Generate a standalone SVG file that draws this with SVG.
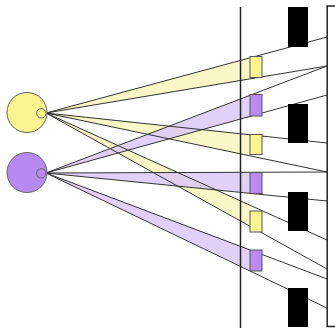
<svg xmlns="http://www.w3.org/2000/svg" width="335" height="328" viewBox="0 0 335 328">
  <style>
    .ray { stroke: #333; stroke-width: 1; fill: none; }
    .beam-y { fill: #f8f5b8; fill-opacity: 0.8; stroke: none; }
    .beam-p { fill: #d9c6f7; fill-opacity: 0.8; stroke: none; }
    .src-y { fill: #faf68f; stroke: #666; stroke-width: 1; }
    .src-p { fill: #b68af0; stroke: #666; stroke-width: 1; }
    .ap-y { fill: #f9f68f; stroke: #555; stroke-width: 1; }
    .ap-p { fill: #b88cf2; stroke: #555; stroke-width: 1; }
    .block { fill: #000; }
    .plane { stroke: #222; stroke-width: 1.5; fill: none; }
  </style>

  <!-- light cones from each source to the apertures -->
  <g id="connectors">
    <polygon class="beam-y" points="46,113 251,57.8 251,78.9"/>
    <polygon class="beam-y" points="46,113 251,134.8 251,155.8"/>
    <polygon class="beam-y" points="46,113 251,205.2 251,226.3"/>
    <polygon class="beam-p" points="46,173 251,95.3 251,116.4"/>
    <polygon class="beam-p" points="46,173 251,172.3 251,193.3"/>
    <polygon class="beam-p" points="46,173 251,250 251,271"/>

    <!-- ray edges running on to the screen -->
    <line class="ray" x1="46" y1="113" x2="327" y2="37"/>
    <line class="ray" x1="46" y1="113" x2="327" y2="66"/>
    <line class="ray" x1="46" y1="113" x2="327" y2="143"/>
    <line class="ray" x1="46" y1="113" x2="327" y2="172"/>
    <line class="ray" x1="46" y1="113" x2="327" y2="240"/>
    <line class="ray" x1="46" y1="113" x2="327" y2="269"/>
    <line class="ray" x1="46" y1="173" x2="327" y2="66"/>
    <line class="ray" x1="46" y1="173" x2="327" y2="95"/>
    <line class="ray" x1="46" y1="173" x2="327" y2="172"/>
    <line class="ray" x1="46" y1="173" x2="327" y2="201"/>
    <line class="ray" x1="46" y1="173" x2="327" y2="279"/>
    <line class="ray" x1="46" y1="173" x2="327" y2="308"/>
  </g>

  <!-- aperture plane -->
  <g id="plane">
    <line class="plane" x1="240.5" y1="7" x2="240.5" y2="328"/>
  </g>

  <!-- sources -->
  <g id="source-yellow">
    <circle class="src-y" cx="27" cy="112.5" r="20"/>
    <circle class="src-y" cx="41.3" cy="113.3" r="4.7"/>
  </g>
  <g id="source-purple">
    <circle class="src-p" cx="27" cy="172.5" r="20"/>
    <circle class="src-p" cx="41.3" cy="173.3" r="4.7"/>
  </g>

  <!-- apertures -->
  <g id="aperture-y1"><rect class="ap-y" x="250" y="56.5" width="12" height="21"/></g>
  <g id="aperture-p1"><rect class="ap-p" x="250" y="94.5" width="12" height="21.5"/></g>
  <g id="aperture-y2"><rect class="ap-y" x="250" y="134.5" width="12" height="20"/></g>
  <g id="aperture-p2"><rect class="ap-p" x="250" y="172.5" width="12" height="21"/></g>
  <g id="aperture-y3"><rect class="ap-y" x="250" y="211" width="12" height="21"/></g>
  <g id="aperture-p3"><rect class="ap-p" x="250" y="250" width="12" height="21"/></g>

  <!-- blocking bars -->
  <g id="block-1"><rect class="block" x="288" y="7" width="20" height="40"/></g>
  <g id="block-2"><rect class="block" x="288" y="104" width="20" height="39"/></g>
  <g id="block-3"><rect class="block" x="288" y="192" width="20" height="39"/></g>
  <g id="block-4"><rect class="block" x="288" y="288" width="20" height="39"/></g>

  <!-- screen -->
  <g id="screen">
    <rect class="plane" x="327.2" y="6" width="20" height="320.5"/>
  </g>
</svg>
